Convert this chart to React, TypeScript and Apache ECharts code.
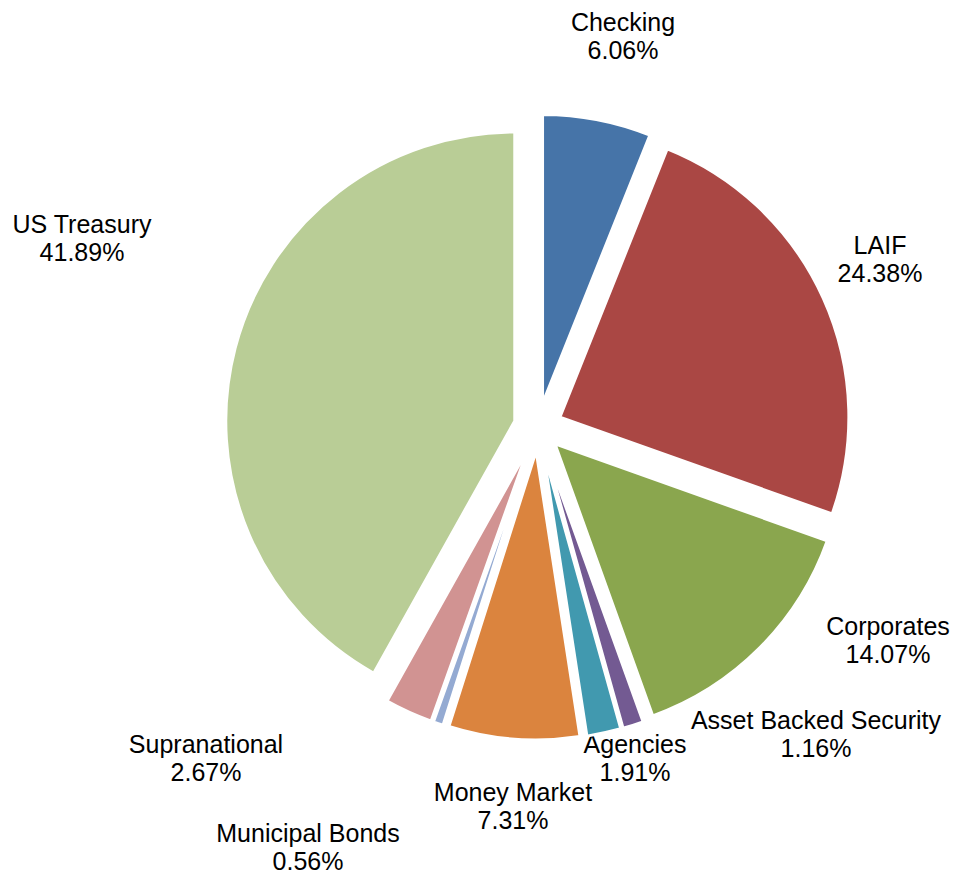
import React, { useEffect, useRef } from "react";
import * as echarts from "echarts";

const categories = [
  "Checking",
  "LAIF",
  "Corporates",
  "Asset Backed Security",
  "Agencies",
  "Money Market",
  "Municipal Bonds",
  "Supranational",
  "US Treasury",
];
const values = [6.06, 24.38, 14.07, 1.16, 1.91, 7.31, 0.56, 2.67, 41.89];
const colors = [
  "#4674A8",
  "#AA4744",
  "#8AA64E",
  "#735A92",
  "#4199AF",
  "#DB843E",
  "#94AAD2",
  "#D19392",
  "#B9CD96",
];
// label anchor (centre) positions, pixels
const labelPos: [number, number][] = [
  [623, 36],
  [880, 259],
  [888, 640],
  [816, 734],
  [635, 758],
  [513, 806],
  [308, 847],
  [206, 758],
  [82, 238],
];

export default function App() {
  const ref = useRef<HTMLDivElement>(null);
  useEffect(() => {
    if (!ref.current) return;
    const chart = echarts.init(ref.current, undefined, { renderer: "svg" });
    chart.setOption({
      animation: false,
      backgroundColor: "#ffffff",
      series: [
        {
          type: "pie",
          center: [538, 427],
          radius: 289,
          startAngle: 90,
          clockwise: true,
          selectedMode: "multiple",
          selectedOffset: 24,
          emphasis: { disabled: true },
          itemStyle: { borderColor: "#ffffff", borderWidth: 3 },
          label: { show: false },
          labelLine: { show: false },
          data: categories.map((name, i) => ({
            name,
            value: values[i],
            selected: true,
            itemStyle: { color: colors[i] },
          })),
        },
      ],
      graphic: categories.map((name, i) => ({
        type: "text",
        x: labelPos[i][0],
        y: labelPos[i][1],
        silent: true,
        style: {
          text: `${name}\n${values[i].toFixed(2)}%`,
          fontFamily: "Arial, 'Liberation Sans', sans-serif",
          fontSize: 25,
          lineHeight: 28,
          fill: "#000000",
          align: "center",
          verticalAlign: "middle",
        },
      })),
    });
    return () => chart.dispose();
  }, []);
  return (
    <div
      ref={ref}
      style={{ position: "fixed", left: 0, top: 0, width: 955, height: 875 }}
    />
  );
}
